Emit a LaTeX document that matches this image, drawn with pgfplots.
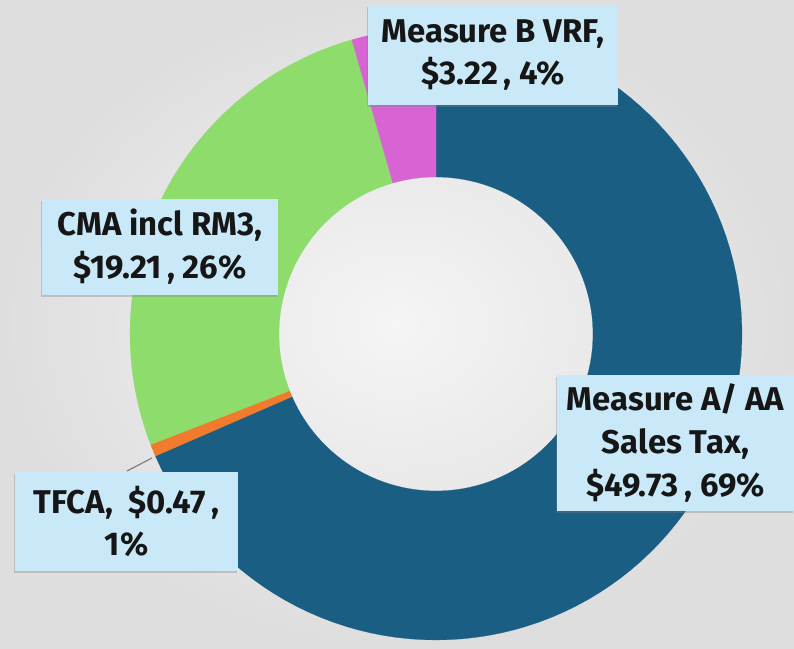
\documentclass[border=0pt]{standalone}
\usepackage{fontspec}
\setmainfont{Fira Sans}
\usepackage{pgfplots}
\pgfplotsset{compat=1.18}
\usetikzlibrary{shadows}

\definecolor{measA}{HTML}{1A5E83}
\definecolor{tfca}{HTML}{F07B2C}
\definecolor{cma}{HTML}{8EDC6C}
\definecolor{vrf}{HTML}{D864D4}
\definecolor{lblbg}{HTML}{C9E9F8}
\definecolor{txt}{HTML}{161616}

% slice values in $M, clockwise from 12 o'clock
\def\vA{49.73}  % Measure A/AA sales tax
\def\vB{0.47}   % TFCA
\def\vC{19.21}  % CMA incl RM3
\def\vD{3.22}   % Measure B VRF

\pgfmathsetmacro{\tot}{\vA+\vB+\vC+\vD}
\pgfmathsetmacro{\aA}{90}
\pgfmathsetmacro{\aB}{\aA-360*(\vA/\tot)}
\pgfmathsetmacro{\aC}{\aB-360*(\vB/\tot)}
\pgfmathsetmacro{\aD}{\aC-360*(\vC/\tot)}
\pgfmathsetmacro{\aE}{\aD-360*(\vD/\tot)}

% donut geometry (pixel units of the picture)
\def\cx{436}\def\cy{315}\def\Ro{306}\def\Ri{157}

% ring segment: colour, start angle, end angle
\newcommand{\ringslice}[3]{%
  \addplot[fill=#1, draw=#1, line width=0.1pt, domain=0:3, samples=301, variable=\t]
    ({\cx+(\Ro-(\Ro-\Ri)*max(0,min(1,\t-1)))*cos((#2)+((#3)-(#2))*min(\t,1,3-\t))},
     {\cy+(\Ro-(\Ro-\Ri)*max(0,min(1,\t-1)))*sin((#2)+((#3)-(#2))*min(\t,1,3-\t))}) -- cycle;
}

\tikzset{lbl/.style={fill=lblbg, text=txt, align=center, inner sep=0pt,
  font=\bfseries\fontsize{16.5}{21.5}\selectfont,
  drop shadow={shadow xshift=-0.4pt, shadow yshift=-0.8pt, opacity=0.35}}}

\begin{document}
\begin{tikzpicture}
\useasboundingbox (0,0) rectangle (397bp,324.5bp);
\shade[inner color=white!96!black, outer color=white!87!black] (0,0) rectangle (397bp,324.5bp);
\begin{axis}[
    anchor=origin, at={(0,0)},
    scale only axis, width=397bp, height=324.5bp,
    xmin=0, xmax=794, ymin=0, ymax=649,
    hide axis, clip=false,
]
\ringslice{measA}{\aA}{\aB}
\ringslice{tfca}{\aB}{\aC}
\ringslice{cma}{\aC}{\aD}
\ringslice{vrf}{\aD}{\aE}

% leader line for the small slice
\addplot[gray, line width=0.6pt] coordinates {(127,178) (152,191)};

\node[lbl, minimum width=125bp, minimum height=50bp] at (axis cs:493,594)
  {Measure B VRF,\\ \$3.22\,, 4\%};
\node[lbl, minimum width=118bp, minimum height=48bp] at (axis cs:160,402)
  {CMA incl RM3,\\ \$19.21\,, 26\%};
\node[lbl, minimum width=118.5bp, minimum height=68bp] at (axis cs:675.5,206)
  {Measure A/ AA\\ Sales Tax,\\ \$49.73\,, 69\%};
\node[lbl, minimum width=111.5bp, minimum height=49.5bp] at (axis cs:126.5,127.5)
  {TFCA,~ \$0.47\,,\\ 1\%};
\end{axis}
\end{tikzpicture}
\end{document}
